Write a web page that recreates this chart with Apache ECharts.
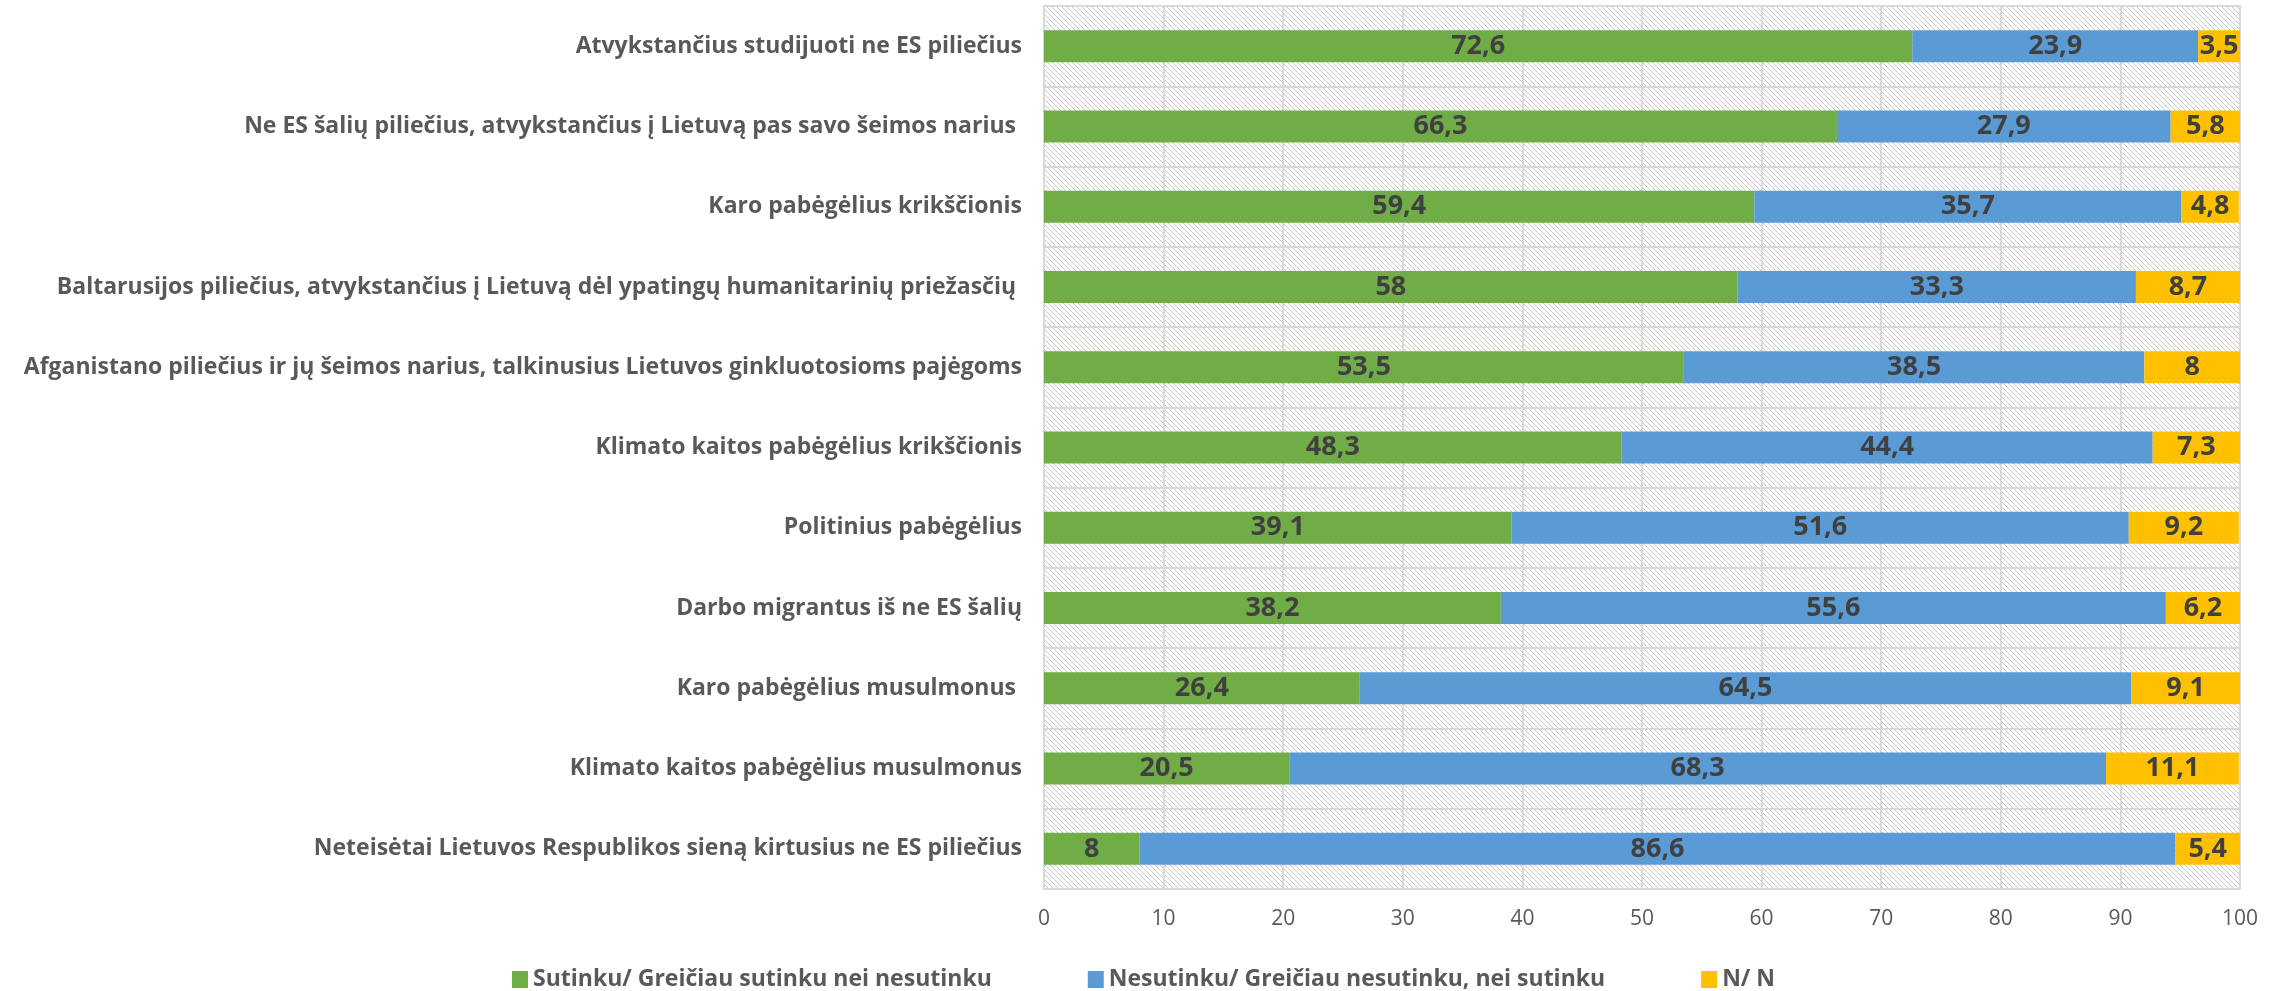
<!DOCTYPE html>
<html>
<head>
<meta charset="utf-8">
<title>Požiūris į atvykstančius</title>
<script src="https://cdn.jsdelivr.net/npm/echarts@6/dist/echarts.min.js"></script>
<style>
  html, body { margin: 0; padding: 0; background: #fff; }
  #chart { width: 2287px; height: 991px; }
</style>
</head>
<body>
<div id="chart"></div>
<script>
// kategorijos (iš viršaus į apačią)
var categories = [
  'Atvykstančius studijuoti ne ES piliečius',
  'Ne ES šalių piliečius, atvykstančius į Lietuvą pas savo šeimos narius ',
  'Karo pabėgėlius krikščionis',
  'Baltarusijos piliečius, atvykstančius į Lietuvą dėl ypatingų humanitarinių priežasčių ',
  'Afganistano piliečius ir jų šeimos narius, talkinusius Lietuvos ginkluotosioms pajėgoms',
  'Klimato kaitos pabėgėlius krikščionis',
  'Politinius pabėgėlius',
  'Darbo migrantus iš ne ES šalių',
  'Karo pabėgėlius musulmonus ',
  'Klimato kaitos pabėgėlius musulmonus',
  'Neteisėtai Lietuvos Respublikos sieną kirtusius ne ES piliečius'
]
var agree = [72.6, 66.3, 59.4, 58, 53.5, 48.3, 39.1, 38.2, 26.4, 20.5, 8]
var disagree = [23.9, 27.9, 35.7, 33.3, 38.5, 44.4, 51.6, 55.6, 64.5, 68.3, 86.6]
var noAnswer = [3.5, 5.8, 4.8, 8.7, 8, 7.3, 9.2, 6.2, 9.1, 11.1, 5.4]
var seriesNames = [
  'Sutinku/ Greičiau sutinku nei nesutinku',
  'Nesutinku/ Greičiau nesutinku, nei sutinku',
  'N/ N'
]
var colors = ['#70ad47', '#5b9bd5', '#ffc000']

var FONT = '"Open Sans", sans-serif'

// įstrižų linijų fonas
function makeHatch() {
  var c = document.createElement('canvas')
  c.width = 5
  c.height = 5
  var ctx = c.getContext('2d')
  ctx.fillStyle = '#ffffff'
  ctx.fillRect(0, 0, 5, 5)
  ctx.fillStyle = '#c8c8c8'
  for (var i = 0; i < 5; i++) {
    ctx.fillRect(i, i, 1, 1)
  }
  return c
}

function barSeries(name, data, color) {
  return {
    name: name,
    type: 'bar',
    stack: 'total',
    barWidth: 32,
    data: data,
    itemStyle: { color: color },
    label: {
      show: true,
      position: 'inside',
      color: '#404040',
      fontFamily: FONT,
      fontWeight: 'bold',
      fontSize: 27,
      formatter: function(p) {
        return String(p.value).replace('.', ',')
      }
    },
    animation: false
  }
}

var chart = echarts.init(document.getElementById('chart'))
chart.setOption({
  animation: false,
  grid: {
    left: 1044,
    right: 47,
    top: 6,
    bottom: 102,
    outerBoundsMode: 'none',
    show: true,
    backgroundColor: { image: makeHatch(), repeat: 'repeat' },
    borderColor: '#d9d9d9',
    borderWidth: 2
  },
  legend: {
    data: seriesNames,
    top: 963,
    left: 'center',
    icon: 'rect',
    itemWidth: 16,
    itemHeight: 17,
    itemGap: 96,
    textStyle: {
      color: '#595959',
      fontFamily: FONT,
      fontWeight: 'bold',
      fontSize: 23
    }
  },
  xAxis: {
    type: 'value',
    min: 0,
    max: 100,
    interval: 10,
    axisLine: { show: false },
    axisTick: { show: false },
    axisLabel: {
      color: '#595959',
      fontFamily: FONT,
      fontSize: 21,
      margin: 20
    },
    splitLine: { show: true, lineStyle: { color: '#d9d9d9', width: 2 } }
  },
  yAxis: {
    type: 'category',
    inverse: true,
    data: categories,
    axisLine: { show: false },
    axisTick: { show: false },
    axisLabel: {
      color: '#595959',
      fontFamily: FONT,
      fontWeight: 'bold',
      fontSize: 23,
      margin: 22
    },
    splitLine: { show: true, lineStyle: { color: '#d9d9d9', width: 2 } }
  },
  series: [
    barSeries(seriesNames[0], agree, colors[0]),
    barSeries(seriesNames[1], disagree, colors[1]),
    barSeries(seriesNames[2], noAnswer, colors[2])
  ]
})
</script>
</body>
</html>
